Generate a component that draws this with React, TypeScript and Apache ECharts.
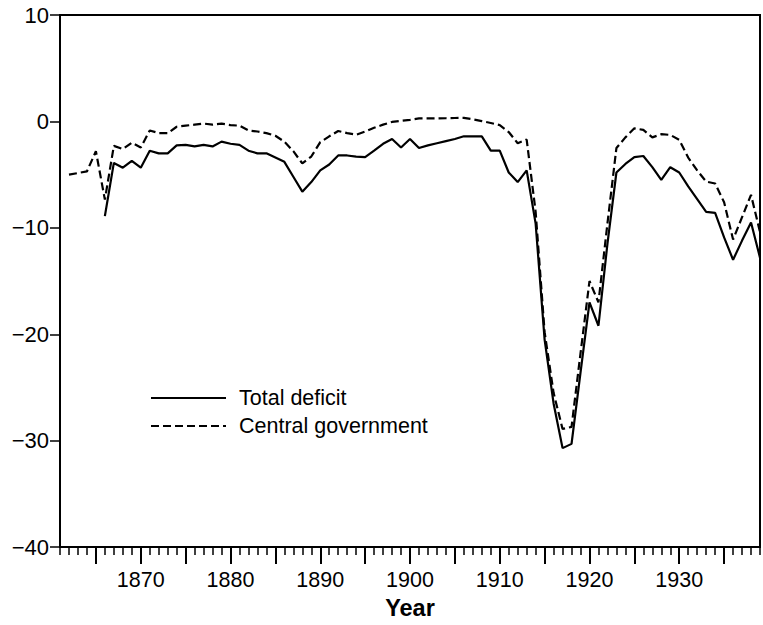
import React, { useEffect, useRef } from "react";
import * as echarts from "echarts";

const X_MIN = 1861;
const X_MAX = 1939;
const majorTickYears = [1865, 1870, 1875, 1880, 1885, 1890, 1895, 1900, 1905, 1910, 1915, 1920, 1925, 1930, 1935];
const labelYears = [1870, 1880, 1890, 1900, 1910, 1920, 1930];

const totalStart = 1866;
const totalDeficit = [
  -8.9, -3.9, -4.35, -3.7, -4.35, -2.75, -3.0, -3.0, -2.25, -2.2,
  -2.35, -2.2, -2.35, -1.9, -2.1, -2.2, -2.75, -3.0, -3.0, -3.4,
  -3.8, -5.2, -6.6, -5.7, -4.6, -4.05, -3.2, -3.2, -3.3, -3.35,
  -2.75, -2.1, -1.65, -2.45, -1.65, -2.5, -2.25, -2.05, -1.85, -1.65,
  -1.4, -1.4, -1.4, -2.75, -2.75, -4.8, -5.7, -4.6, -9.6, -20.5,
  -26.5, -30.7, -30.3, -23.6, -17.0, -19.2, -11.5, -4.8, -4.0, -3.35,
  -3.25, -4.3, -5.5, -4.3, -4.8, -6.1, -7.3, -8.5, -8.6, -10.9,
  -13.0, -11.2, -9.5, -12.8,
];

const centralStart = 1862;
const centralGovernment = [
  -5.0, -4.85, -4.7, -2.8, -7.35, -2.3, -2.6, -2.0, -2.45, -0.85,
  -1.1, -1.1, -0.5, -0.4, -0.3, -0.2, -0.3, -0.2, -0.35, -0.4,
  -0.85, -0.95, -1.1, -1.35, -1.9, -2.8, -3.95, -3.3, -1.95, -1.4,
  -0.9, -1.1, -1.25, -0.95, -0.6, -0.3, -0.05, 0.05, 0.15, 0.28,
  0.28, 0.28, 0.3, 0.32, 0.34, 0.2, 0.03, -0.15, -0.35, -1.0,
  -2.05, -1.7, -8.5, -19.8, -25.5, -28.9, -28.7, -21.8, -15.0, -17.0,
  -9.6, -2.5, -1.5, -0.65, -0.8, -1.5, -1.2, -1.27, -1.73, -3.4,
  -4.6, -5.65, -5.83, -7.6, -11.1, -9.0, -6.9, -10.4,
];

const FONT = "'Liberation Sans', Arial, Helvetica, sans-serif";

export default function App() {
  const ref = useRef<HTMLDivElement>(null);

  useEffect(() => {
    if (!ref.current) return;
    const chart = echarts.init(ref.current, null, { renderer: "svg" });

    const minorYears: number[] = [];
    for (let y = X_MIN; y <= X_MAX; y++) {
      if (!majorTickYears.includes(y)) minorYears.push(y);
    }

    const totalData = totalDeficit.map((v, i) => [totalStart + i, v]);
    const centralData = centralGovernment.map((v, i) => [centralStart + i, v]);

    chart.setOption({
      animation: false,
      backgroundColor: "#fff",
      textStyle: { fontFamily: FONT, color: "#000" },
      grid: {
        left: 60,
        right: 3,
        top: 15,
        bottom: 70,
        show: true,
        borderColor: "#000",
        borderWidth: 2,
        backgroundColor: "transparent",
      },
      legend: {
        orient: "vertical",
        left: 150,
        top: 387,
        padding: 0,
        itemWidth: 75,
        itemHeight: 22,
        itemGap: 6,
        selectedMode: false,
        itemStyle: { opacity: 0 },
        textStyle: { fontSize: 21.5, fontFamily: FONT, color: "#000", padding: [0, 0, 0, 8] },
        data: ["Total deficit", "Central government"],
      },
      xAxis: [
        {
          type: "value",
          min: X_MIN,
          max: X_MAX,
          position: "bottom",
          name: "Year",
          nameLocation: "middle",
          nameGap: 43,
          nameTextStyle: { fontSize: 23.5, fontWeight: "bold", fontFamily: FONT, color: "#000" },
          axisLine: { show: true, onZero: false, lineStyle: { color: "#000", width: 2 } },
          axisTick: { show: true, length: 17, customValues: majorTickYears, lineStyle: { color: "#000", width: 2 } },
          axisLabel: {
            customValues: labelYears,
            fontSize: 21.5,
            margin: 22,
            color: "#000",
            fontFamily: FONT,
            formatter: (v: number) => String(v),
          },
          splitLine: { show: false },
        },
        {
          type: "value",
          min: X_MIN,
          max: X_MAX,
          position: "bottom",
          axisLine: { show: false, onZero: false },
          axisTick: { show: true, length: 8, customValues: minorYears, lineStyle: { color: "#000", width: 1.5 } },
          axisLabel: { show: false },
          splitLine: { show: false },
        },
      ],
      yAxis: {
        type: "value",
        min: -40,
        max: 10,
        interval: 10,
        axisLine: { show: true, onZero: false, lineStyle: { color: "#000", width: 2 } },
        axisTick: { show: true, length: 10, lineStyle: { color: "#000", width: 1.5 } },
        axisLabel: {
          fontSize: 22,
          margin: 11,
          color: "#000",
          fontFamily: FONT,
          formatter: (v: number) => String(v).replace("-", "\u2212"),
        },
        splitLine: { show: false },
      },
      series: [
        {
          name: "Total deficit",
          type: "line",
          xAxisIndex: 0,
          data: totalData,
          symbol: "none",
          lineStyle: { color: "#000", width: 2.2 },
          itemStyle: { color: "#000" },
        },
        {
          name: "Central government",
          type: "line",
          xAxisIndex: 0,
          data: centralData,
          symbol: "none",
          lineStyle: { color: "#000", width: 2.2, type: [8, 4] },
          itemStyle: { color: "#000" },
        },
      ],
    });

    return () => chart.dispose();
  }, []);

  return (
    <div
      ref={ref}
      style={{ position: "absolute", left: 0, top: 0, width: 763, height: 625 }}
    />
  );
}
